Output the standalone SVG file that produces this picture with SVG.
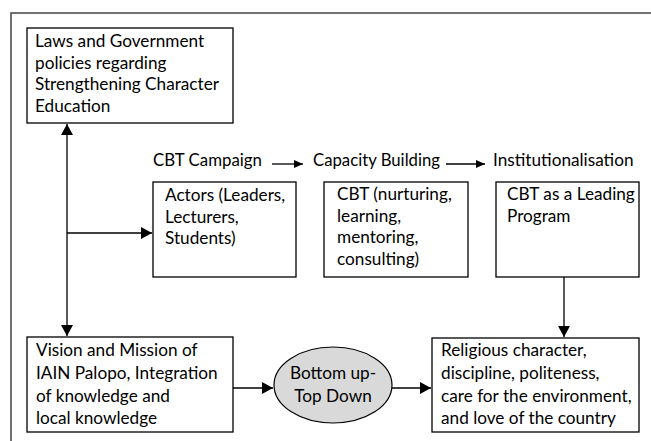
<svg xmlns="http://www.w3.org/2000/svg" width="651" height="441" viewBox="0 0 651 441">
<style>
  .box { fill: #ffffff; stroke: #000000; stroke-width: 1.3; }
  .ell { fill: #d9d9d9; stroke: #000000; stroke-width: 1.2; }
  .t { font-family: "Lato", "Liberation Sans", sans-serif; font-size: 17.2px; fill: #000000; }
  .c { stroke: #000000; stroke-width: 1.3; fill: none; }
  .frame { stroke: #444444; stroke-width: 1.5; fill: none; }
</style>
<defs>
  <marker id="big" markerUnits="userSpaceOnUse" markerWidth="12" markerHeight="12" refX="11" refY="6" orient="auto">
    <path d="M0,0 L11,6 L0,12 Z" fill="#000000"/>
  </marker>
  <marker id="small" markerUnits="userSpaceOnUse" markerWidth="10" markerHeight="10" refX="9" refY="5" orient="auto">
    <path d="M0,1 L9,5 L0,9 Z" fill="#000000"/>
  </marker>
</defs>
<rect width="651" height="441" fill="#ffffff"/>
<path class="frame" d="M11,441 L11,13 L651,13"/>

<g id="connectors">
  <line class="c" x1="67" y1="230" x2="67" y2="124" marker-end="url(#big)"/>
  <line class="c" x1="67" y1="230" x2="67" y2="336" marker-end="url(#big)"/>
  <line class="c" x1="67" y1="233" x2="152" y2="233" marker-end="url(#big)"/>
  <line class="c" x1="564" y1="277" x2="564" y2="337" marker-end="url(#big)"/>
  <line class="c" x1="233" y1="388" x2="273" y2="388" marker-end="url(#big)"/>
  <line class="c" x1="392" y1="388" x2="431" y2="388" marker-end="url(#big)"/>
  <line class="c" x1="272" y1="164" x2="303" y2="164" marker-end="url(#small)"/>
  <line class="c" x1="446" y1="164" x2="485" y2="164" marker-end="url(#small)"/>
</g>

<g id="laws">
  <rect class="box" x="27" y="28" width="206" height="95"/>
  <text class="t" x="35" y="47">Laws and Government</text>
  <text class="t" x="35" y="68.5">policies regarding</text>
  <text class="t" x="35" y="90">Strengthening Character</text>
  <text class="t" x="35" y="111.5">Education</text>
</g>

<g id="label-campaign"><text class="t" x="153" y="166" textLength="109" lengthAdjust="spacingAndGlyphs">CBT Campaign</text></g>
<g id="label-capacity"><text class="t" x="313" y="166" textLength="127" lengthAdjust="spacingAndGlyphs">Capacity Building</text></g>
<g id="label-institution"><text class="t" x="493" y="166">Institutionalisation</text></g>

<g id="actors">
  <rect class="box" x="153" y="182" width="143" height="95"/>
  <text class="t" x="165" y="201">Actors (Leaders,</text>
  <text class="t" x="165" y="222.5">Lecturers,</text>
  <text class="t" x="165" y="244">Students)</text>
</g>

<g id="cbt">
  <rect class="box" x="324" y="182" width="144" height="95"/>
  <text class="t" x="337" y="200">CBT (nurturing,</text>
  <text class="t" x="337" y="221.5">learning,</text>
  <text class="t" x="337" y="243">mentoring,</text>
  <text class="t" x="337" y="264.5">consulting)</text>
</g>

<g id="leading">
  <rect class="box" x="496" y="182" width="143" height="95"/>
  <text class="t" x="507" y="200">CBT as a Leading</text>
  <text class="t" x="507" y="221.5">Program</text>
</g>

<g id="vision">
  <rect class="box" x="27" y="337" width="206" height="95"/>
  <text class="t" x="36" y="356">Vision and Mission of</text>
  <text class="t" x="36" y="379">IAIN Palopo, Integration</text>
  <text class="t" x="36" y="401.5">of knowledge and</text>
  <text class="t" x="36" y="424">local knowledge</text>
</g>

<g id="bottomup">
  <ellipse class="ell" cx="333" cy="385" rx="59" ry="38"/>
  <text class="t" x="333" y="379" text-anchor="middle">Bottom up-</text>
  <text class="t" x="333" y="401.5" text-anchor="middle">Top Down</text>
</g>

<g id="religious">
  <rect class="box" x="432" y="338" width="207" height="94"/>
  <text class="t" x="441" y="356">Religious character,</text>
  <text class="t" x="441" y="379">discipline, politeness,</text>
  <text class="t" x="441" y="401.5">care for the environment,</text>
  <text class="t" x="441" y="424">and love of the country</text>
</g>
</svg>
